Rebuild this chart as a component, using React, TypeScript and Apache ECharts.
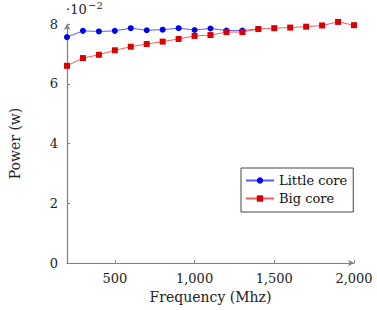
import React, { useEffect, useRef } from "react";
import * as echarts from "echarts";

// Frequency (MHz)
const littleFreq = [200, 300, 400, 500, 600, 700, 800, 900, 1000, 1100, 1200, 1300, 1400];
const littlePower = [7.56, 7.77, 7.75, 7.77, 7.86, 7.79, 7.81, 7.86, 7.8, 7.85, 7.78, 7.78, 7.83]; // ×10^-2 W
const bigFreq = [200, 300, 400, 500, 600, 700, 800, 900, 1000, 1100, 1200, 1300, 1400, 1500, 1600, 1700, 1800, 1900, 2000];
const bigPower = [6.6, 6.86, 6.97, 7.12, 7.24, 7.33, 7.41, 7.5, 7.6, 7.63, 7.73, 7.73, 7.83, 7.86, 7.88, 7.91, 7.95, 8.07, 7.96]; // ×10^-2 W
const xTicks = [500, 1000, 1500, 2000];

const FONT = "'DejaVu Serif', 'Liberation Serif', serif";

export default function App() {
  const ref = useRef<HTMLDivElement>(null);
  useEffect(() => {
    if (!ref.current) return;
    const chart = echarts.init(ref.current, null, { renderer: "svg" });
    const axisColor = "#808080";
    chart.setOption({
      animation: false,
      textStyle: { fontFamily: FONT },
      grid: { left: 63, right: 23, top: 24, bottom: 47, containLabel: false },
      xAxis: {
        type: "value",
        min: 200,
        max: 2000,
        splitLine: { show: false },
        axisLine: { lineStyle: { color: axisColor, width: 1.2 }, symbol: ["none", "arrow"], symbolSize: [5, 6] },
        axisTick: { inside: true, length: 3, customValues: xTicks, lineStyle: { color: axisColor } },
        axisLabel: {
          customValues: xTicks,
          color: "#222",
          fontSize: 13,
          fontFamily: FONT,
          margin: 9,
          formatter: (v: number) => v.toLocaleString("en-US"),
        },
        name: "Frequency (Mhz)",
        nameLocation: "middle",
        nameGap: 27,
        nameTextStyle: { color: "#222", fontSize: 14, fontFamily: FONT },
      },
      yAxis: {
        type: "value",
        min: 0,
        max: 8,
        interval: 2,
        splitLine: { show: false },
        axisLine: { show: true, lineStyle: { color: axisColor, width: 1.2 }, symbol: ["none", "arrow"], symbolSize: [5, 6] },
        axisTick: { show: true, inside: true, length: 3, lineStyle: { color: axisColor } },
        axisLabel: { color: "#222", fontSize: 13, fontFamily: FONT, margin: 9 },
        name: "Power (w)",
        nameLocation: "middle",
        nameRotate: 90,
        nameGap: 45,
        nameTextStyle: { color: "#222", fontSize: 14, fontFamily: FONT },
      },
      legend: {
        orient: "vertical",
        left: 241,
        top: 168,
        width: 113,
        borderColor: "#444",
        borderWidth: 1,
        borderRadius: 0,
        padding: [6, 6, 7, 4],
        itemGap: 5,
        itemWidth: 28,
        itemHeight: 8,
        textStyle: { fontSize: 13, fontFamily: FONT, color: "#111" },
        data: ["Little core", "Big core"],
      },
      graphic: [
        {
          type: "text",
          x: 66,
          y: 3,
          style: { text: "·10", fontSize: 13, fontFamily: FONT, fill: "#222" },
        },
        {
          type: "text",
          x: 88,
          y: 0,
          style: { text: "−2", fontSize: 10, fontFamily: FONT, fill: "#222" },
        },
      ],
      series: [
        {
          name: "Little core",
          type: "line",
          clip: false,
          data: littleFreq.map((f, i) => [f, littlePower[i]]),
          symbol: "circle",
          symbolSize: 6,
          itemStyle: { color: "#0000f0" },
          lineStyle: { color: "#5a5aff", width: 1 },
        },
        {
          name: "Big core",
          type: "line",
          clip: false,
          data: bigFreq.map((f, i) => [f, bigPower[i]]),
          symbol: "rect",
          symbolSize: 6,
          itemStyle: { color: "#d80000" },
          lineStyle: { color: "#f06060", width: 1 },
        },
      ],
    });
    return () => chart.dispose();
  }, []);
  return <div ref={ref} style={{ width: 377, height: 310, position: "absolute", left: 0, top: 0 }} />;
}
